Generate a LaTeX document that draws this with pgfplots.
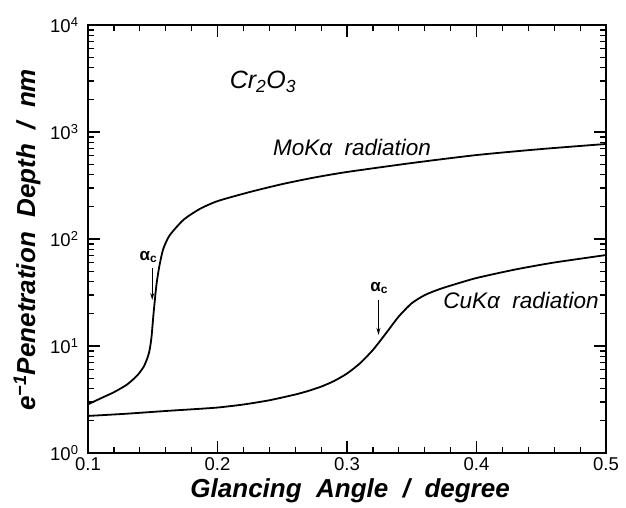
\documentclass[border=0pt]{standalone}
\usepackage{pgfplots}
\pgfplotsset{compat=1.18}
\usepackage{fontspec}
\setmainfont{Liberation Sans}
\usetikzlibrary{arrows.meta}

\begin{document}
\begin{tikzpicture}[x=1pt,y=1pt]
\useasboundingbox (0,0) rectangle (626,507);
\begin{axis}[
  at={(88pt,54pt)}, anchor=south west,
  scale only axis, width=518pt, height=428pt,
  xmin=0.1, xmax=0.5,
  ymode=log, ymin=1, ymax=1e4,
  xtick={0.1,0.2,0.3,0.4,0.5},
  minor x tick num=4,
  ytick={1,10,100,1000,10000},
  yticklabels={10\textsuperscript{0},10\textsuperscript{1},10\textsuperscript{2},10\textsuperscript{3},10\textsuperscript{4}},
  minor ytick={2,3,4,5,6,7,8,9,20,30,40,50,60,70,80,90,200,300,400,500,600,700,800,900,2000,3000,4000,5000,6000,7000,8000,9000},
  /pgf/number format/assume math mode=true,
  xticklabel style={/pgf/number format/fixed,/pgf/number format/precision=1, yshift=-1pt},
  yticklabel style={xshift=-6pt},
  tick label style={font=\fontsize{18.5}{18.5}\selectfont},
  major tick length=12pt, minor tick length=6pt,
  every tick/.style={black, line width=1.2pt},
  axis line style={line width=1.8pt},
  xlabel={\textbf{\textit{Glancing\ \ Angle\ \ /\ \ degree}}},
  ylabel={\textbf{\textit{e\textsuperscript{−1}Penetration\ \ Depth\ \ /\ \ nm}}},
  label style={font=\fontsize{26}{26}\selectfont},
  xlabel style={at={(axis description cs:0.506,-0.103)}, anchor=base},
  ylabel style={at={(axis description cs:-0.102,0.498)}, anchor=base, rotate=0},
  clip=false,
]
% Mo K-alpha
\addplot[black, line width=1.8pt, smooth, tension=0.4] coordinates {
  (0.100,2.85) (0.110,3.25) (0.120,3.7) (0.130,4.35) (0.138,5.3) (0.143,6.4)
  (0.146,7.8) (0.1476,9.2) (0.149,12) (0.1504,18.8) (0.152,30) (0.153,38.5)
  (0.155,55) (0.158,80) (0.163,108) (0.1737,151) (0.186,190) (0.200,226)
  (0.225,275) (0.250,326) (0.275,376) (0.300,423) (0.350,513) (0.400,609)
  (0.450,693) (0.500,773)
};
% Cu K-alpha
\addplot[black, line width=1.8pt, smooth, tension=0.4] coordinates {
  (0.100,2.22) (0.130,2.33) (0.160,2.47) (0.180,2.56) (0.200,2.66)
  (0.220,2.84) (0.240,3.11) (0.260,3.52) (0.270,3.80) (0.280,4.17)
  (0.290,4.71) (0.300,5.53) (0.310,6.89) (0.320,9.18) (0.330,13.1)
  (0.340,18.9) (0.350,25.1) (0.360,29.9) (0.370,33.5) (0.380,36.7)
  (0.400,43.2) (0.430,51.9) (0.460,60.3) (0.500,70.8)
};
% critical angles
\draw[line width=1.2pt, -{Stealth[length=7pt,width=4pt]}] (axis cs:0.1496,53.6) -- (axis cs:0.1496,26.9);
\draw[line width=1.2pt, -{Stealth[length=7pt,width=4pt]}] (axis cs:0.3243,26.9) -- (axis cs:0.3243,12.7);
\node[font=\fontsize{17}{17}\selectfont\bfseries] at (axis cs:0.1466,68) {α\textsubscript{c}};
\node[font=\fontsize{17}{17}\selectfont\bfseries] at (axis cs:0.3248,34.8) {α\textsubscript{c}};
% labels
\node[font=\fontsize{25}{25}\selectfont\itshape] at (axis cs:0.2351,2932) {Cr\textsubscript{2}O\textsubscript{3}};
\node[font=\fontsize{22.5}{22.5}\selectfont\itshape] at (axis cs:0.3039,724) {MoKα\ \ radiation};
\node[font=\fontsize{22.5}{22.5}\selectfont\itshape] at (axis cs:0.4344,26.9) {CuKα\ \ radiation};
\end{axis}
\end{tikzpicture}
\end{document}
